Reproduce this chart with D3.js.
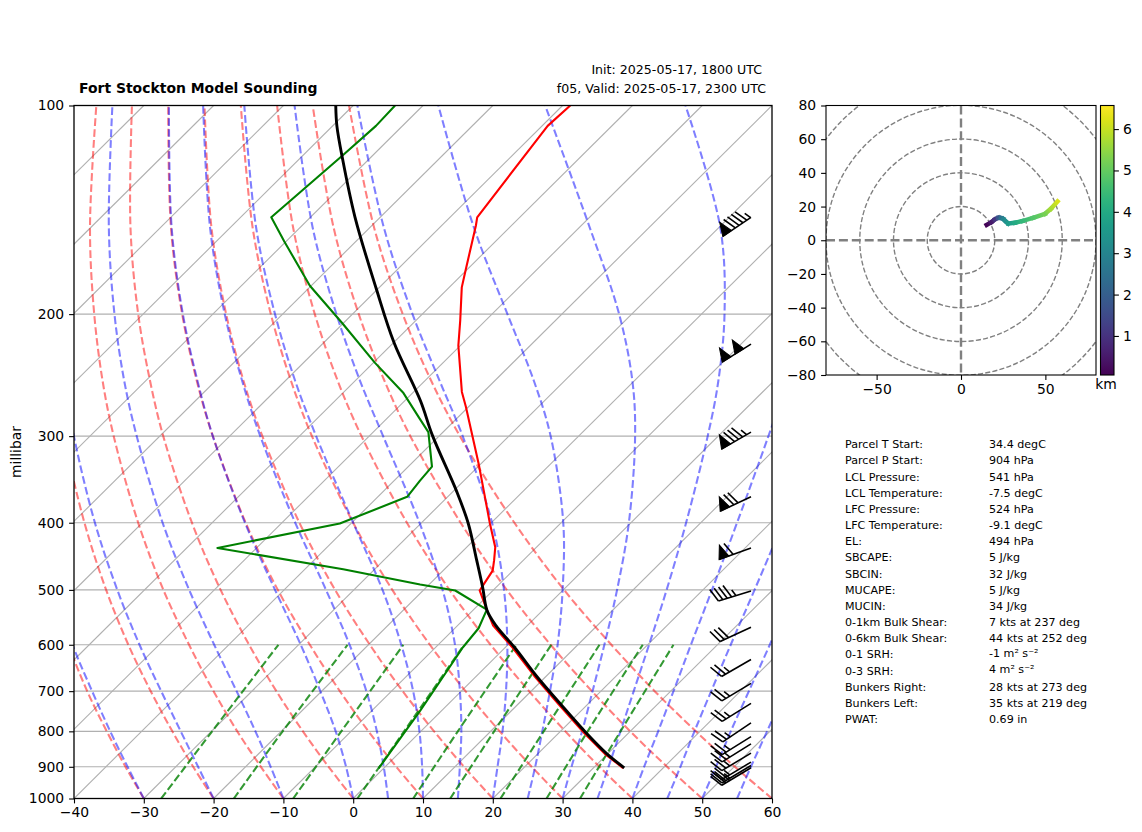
<!DOCTYPE html>
<html>
<head>
<meta charset="utf-8">
<script src="https://d3js.org/d3.v7.min.js"></script>
<style>
  html, body { margin: 0; background: #fff; }
  text { font-family: "DejaVu Sans", sans-serif; fill: #000; }
</style>
</head>
<body>
<svg id="chart" width="1142" height="832"></svg>
<script>
// ---- values ----
const pressureTicks = [100, 200, 300, 400, 500, 600, 700, 800, 900, 1000];
const tempTicks = [-40, -30, -20, -10, 0, 10, 20, 30, 40, 50, 60];
const isotherms = d3.range(-140, 61, 10);

// pressure levels for the adiabat rows below
const adiabatLevels = [1000, 900, 800, 700, 600, 500, 400, 300, 250, 200, 150, 100];
const dryAdiabats = [
  [-30.0, -37.2, -45.0, -53.6, -63.0, -73.7, -86.0, -100.8, -109.5, -119.6, -131.7, -147.2],
  [-20.0, -27.5, -35.6, -44.5, -54.4, -65.5, -78.3, -93.7, -102.8, -113.3, -125.9, -142.0],
  [-10.0, -17.8, -26.3, -35.5, -45.7, -57.3, -70.6, -86.6, -96.1, -107.0, -120.1, -136.8],
  [0.0, -8.1, -16.9, -26.5, -37.1, -49.1, -62.9, -79.5, -89.3, -100.7, -114.3, -131.7],
  [10.0, 1.6, -7.5, -17.4, -28.4, -40.9, -55.2, -72.4, -82.6, -94.4, -108.5, -126.5],
  [20.0, 11.3, 1.9, -8.4, -19.8, -32.7, -47.5, -65.3, -75.9, -88.1, -102.7, -121.3],
  [30.0, 21.0, 11.3, 0.6, -11.2, -24.5, -39.8, -58.2, -69.1, -81.7, -96.8, -116.1],
  [40.0, 30.7, 20.7, 9.7, -2.5, -16.3, -32.1, -51.1, -62.4, -75.4, -91.0, -110.9],
  [50.0, 40.4, 30.0, 18.7, 6.1, -8.1, -24.4, -44.1, -55.7, -69.1, -85.2, -105.8],
  [60.0, 50.1, 39.4, 27.7, 14.8, 0.1, -16.7, -37.0, -49.0, -62.8, -79.4, -100.6]
];
const moistAdiabats = [
  [-30.0, -36.9, -44.5, -52.9, -62.4, -73.0, -85.4, -100.2, -109.0, -119.1, -131.3, -146.8],
  [-20.0, -26.8, -34.4, -43.0, -52.8, -63.9, -76.8, -92.3, -101.5, -112.1, -124.8, -141.0],
  [-10.0, -16.4, -23.7, -32.2, -42.1, -53.6, -67.1, -83.3, -93.0, -104.1, -117.4, -134.5],
  [0.0, -5.6, -12.2, -20.2, -29.7, -41.3, -55.3, -72.4, -82.5, -94.3, -108.4, -126.4],
  [5.0, -0.2, -6.3, -13.6, -22.7, -34.0, -48.1, -65.6, -76.1, -88.3, -102.9, -121.5],
  [10.0, 5.3, -0.2, -6.9, -15.3, -25.9, -39.8, -57.6, -68.5, -81.1, -96.3, -115.6],
  [15.0, 10.7, 5.8, -0.2, -7.6, -17.3, -30.3, -48.0, -59.2, -72.3, -88.2, -108.4],
  [20.0, 16.1, 11.7, 6.4, -0.1, -8.5, -19.9, -36.6, -47.8, -61.4, -78.0, -99.4],
  [25.0, 21.5, 17.4, 12.7, 7.1, -0.1, -9.7, -24.0, -34.3, -47.8, -65.1, -87.8],
  [30.0, 26.7, 23.1, 18.8, 13.8, 7.7, -0.3, -11.9, -20.2, -31.8, -48.5, -72.5],
  [35.0, 32.0, 28.6, 24.7, 20.2, 14.8, 7.9, -1.5, -7.9, -16.7, -29.8, -52.4],
  [40.0, 37.1, 34.0, 30.4, 26.2, 21.3, 15.2, 7.2, 2.0, -4.8, -14.2, -30.2],
  [45.0, 42.3, 39.2, 35.8, 31.9, 27.4, 21.8, 14.6, 10.1, 4.5, -3.0, -14.3],
  [50.0, 47.4, 44.4, 41.2, 37.5, 33.1, 27.9, 21.2, 17.1, 12.0, 5.6, -3.6],
  [55.0, 52.4, 49.6, 46.4, 42.8, 38.6, 33.6, 27.3, 23.4, 18.6, 12.7, 4.4],
  [60.0, 57.5, 54.7, 51.6, 48.0, 43.9, 39.0, 32.9, 29.1, 24.6, 18.9, 11.1]
];
const mixingLevels = [1000, 800, 600];
const mixingLines = [
  [-27.5, -29.9, -32.9],
  [-17.1, -19.8, -23.0],
  [-8.6, -11.4, -15.0],
  [0.6, -2.4, -6.3],
  [8.6, 5.3, 1.2],
  [13.9, 10.5, 6.2],
  [21.1, 17.6, 13.1],
  [27.7, 23.9, 19.3],
  [32.5, 28.6, 23.7]
];

const tempPressure = [904, 862, 805, 730, 665, 606, 563, 535, 501, 491, 469, 453, 434, 401, 329, 272, 259, 222, 204, 183, 173, 149, 145, 107, 100];
const temperature = [34.3, 29.6, 23.7, 15.7, 8.2, 1.1, -4.9, -8.0, -11.9, -12.2, -12.9, -14.2, -15.9, -20.1, -30.3, -40.4, -43.1, -50.3, -53.7, -58.2, -60.1, -65.1, -66.1, -69.2, -68.9];
const dewPressure = [100, 107, 118, 145, 157, 182, 206, 235, 260, 283, 296, 332, 348, 367, 401, 435, 467, 491, 501, 534, 568, 605, 746, 905];
const dewpoint = [-94.0, -93.8, -94.3, -95.6, -90.3, -80.2, -70.2, -59.8, -51.3, -45.3, -42.1, -36.6, -36.3, -35.8, -41.6, -55.6, -34.5, -21.3, -15.4, -8.1, -6.6, -6.1, -3.1, -0.7];
const parcelPressure = [100, 107, 119, 145, 184, 220, 267, 299, 361, 401, 453, 496, 535, 563, 606, 665, 730, 805, 862, 903];
const parcelTemp = [-102.5, -99.4, -94.0, -83.6, -70.2, -59.9, -47.7, -41.1, -29.4, -23.2, -16.7, -11.9, -8.0, -4.5, 1.4, 8.5, 16.0, 24.0, 29.9, 34.4];

const barbPressure = [145, 221, 296, 367, 435, 502, 566, 630, 682, 729, 778, 814, 834, 860, 886, 896, 903];
const barbSpeed = [95, 100, 85, 70, 60, 45, 30, 25, 25, 25, 25, 25, 25, 25, 25, 25, 25];
const barbDirection = [236, 238, 240, 245, 250, 253, 245, 240, 239, 238, 236, 238, 238, 239, 239, 239, 239];

const hodoU = [15.2, 18.1, 20.1, 22.1, 23.7, 25.1, 26.4, 28.0, 32.0, 36.4, 42.7, 49.8, 53.3, 57.2];
const hodoV = [9.1, 10.8, 12.4, 13.3, 13.2, 12.6, 11.3, 9.9, 10.4, 11.4, 13.3, 15.7, 18.7, 23.1];
const hodoHeight = [0.1, 0.5, 1.0, 1.8, 2.5, 3.0, 3.3, 3.6, 4.0, 4.4, 4.8, 5.2, 5.7, 6.2];
const hodoRings = [20, 40, 60, 80, 100];

const statLabels = ['Parcel T Start:', 'Parcel P Start:', 'LCL Pressure:', 'LCL Temperature:', 'LFC Pressure:', 'LFC Temperature:', 'EL:', 'SBCAPE:', 'SBCIN:', 'MUCAPE:', 'MUCIN:', '0-1km Bulk Shear:', '0-6km Bulk Shear:', '0-1 SRH:', '0-3 SRH:', 'Bunkers Right:', 'Bunkers Left:', 'PWAT:'];
const statValues = ['34.4 degC', '904 hPa', '541 hPa', '-7.5 degC', '524 hPa', '-9.1 degC', '494 hPa', '5 J/kg', '32 J/kg', '5 J/kg', '34 J/kg', '7 kts at 237 deg', '44 kts at 252 deg', '-1 m\u00b2 s\u207b\u00b2', '4 m\u00b2 s\u207b\u00b2', '28 kts at 273 deg', '35 kts at 219 deg', '0.69 in'];

// ---- skew-T panel ----
const svg = d3.select('#chart');
const skL = 74, skR = 772, skT = 105.5, skB = 798.5;
const tempX = d3.scaleLinear().domain([-40, 60]).range([skL, skR]);
const pY = d3.scaleLog().domain([1000, 100]).range([skB, skT]);
const skew = (skR - skL) / (skB - skT);
const skewX = (t, p) => tempX(t) + (skB - pY(p)) * skew;

const defs = svg.append('defs');
defs.append('clipPath').attr('id', 'skewClip').append('rect')
  .attr('x', skL).attr('y', skT).attr('width', skR - skL).attr('height', skB - skT);

const plot = svg.append('g').attr('clip-path', 'url(#skewClip)');
plot.selectAll('line.h').data(pressureTicks).enter().append('line')
  .attr('x1', skL).attr('x2', skR)
  .attr('y1', d => pY(d)).attr('y2', d => pY(d))
  .attr('stroke', '#b0b0b0').attr('stroke-width', 1.1);
plot.selectAll('line.t').data(isotherms).enter().append('line')
  .attr('x1', d => skewX(d, 1000)).attr('y1', pY(1000))
  .attr('x2', d => skewX(d, 100)).attr('y2', pY(100))
  .attr('stroke', '#b0b0b0').attr('stroke-width', 1.1);

function guideCurves(rows, levels, color, opacity) {
  const line = d3.line()
    .x((d, i) => skewX(d, levels[i]))
    .y((d, i) => pY(levels[i]))
    .curve(d3.curveCatmullRom);
  plot.append('g').selectAll('path').data(rows).enter().append('path')
    .attr('d', line)
    .attr('fill', 'none')
    .attr('stroke', color)
    .attr('stroke-opacity', opacity)
    .attr('stroke-width', 2.08)
    .attr('stroke-dasharray', '7.7 3.3');
}
guideCurves(dryAdiabats, adiabatLevels, '#ff0000', 0.5);
guideCurves(moistAdiabats, adiabatLevels, '#0000ff', 0.5);
guideCurves(mixingLines, mixingLevels, '#008000', 0.8);

function profile(pres, temps, color, width, curve) {
  const line = d3.line()
    .x((d, i) => skewX(temps[i], d))
    .y(d => pY(d))
    .curve(curve);
  plot.append('path').attr('d', line(pres))
    .attr('fill', 'none').attr('stroke', color)
    .attr('stroke-width', width).attr('stroke-linejoin', 'round');
}
profile(tempPressure, temperature, '#ff0000', 2.1, d3.curveLinear);
profile(dewPressure, dewpoint, '#008000', 2.1, d3.curveLinear);
profile(parcelPressure, parcelTemp, '#000000', 2.9, d3.curveCatmullRom);

// wind barbs, pinned at the tail end of the staff, flags at the upwind end
const barbX = 751;
const barbLen = 34, barbH = 13.5, barbW = 10, barbFlag = 10.5, barbGap = 4.6;
function drawBarb(g, speed) {
  // local frame: staff along +x from the pinned end, feathers towards +y
  g.append('line').attr('x1', 0).attr('y1', 0).attr('x2', barbLen).attr('y2', 0)
    .attr('stroke', '#000').attr('stroke-width', 1.6);
  let s = speed, at = barbLen;
  const flags = Math.floor(s / 50); s -= flags * 50;
  const full = Math.floor(s / 10); s -= full * 10;
  for (let i = 0; i < flags; i++) {
    g.append('path')
      .attr('d', `M${at},0L${at - barbFlag / 2},${barbH}L${at - barbFlag},0Z`)
      .attr('fill', '#000').attr('stroke', '#000').attr('stroke-width', 1);
    at -= barbFlag + barbGap;
  }
  for (let i = 0; i < full; i++) {
    g.append('line').attr('x1', at).attr('y1', 0)
      .attr('x2', at + barbW / 2).attr('y2', barbH)
      .attr('stroke', '#000').attr('stroke-width', 1.6);
    at -= barbGap;
  }
  if (s >= 5) {
    g.append('line').attr('x1', at).attr('y1', 0)
      .attr('x2', at + barbW / 4).attr('y2', barbH / 2)
      .attr('stroke', '#000').attr('stroke-width', 1.6);
  }
}
barbPressure.forEach((p, i) => {
  // direction is a compass bearing, the staff points towards it on screen
  const angle = barbDirection[i] - 90;
  const g = svg.append('g').attr('transform', `translate(${barbX},${pY(p)}) rotate(${angle})`);
  drawBarb(g, barbSpeed[i]);
});

// axes
const styleAxis = g => {
  g.selectAll('text').attr('font-size', 13.9).attr('font-family', '"DejaVu Sans", sans-serif');
  g.selectAll('line').attr('stroke-width', 1.1);
  g.select('.domain').remove();
};
svg.append('g').attr('transform', `translate(${skL},0)`)
  .call(d3.axisLeft(pY).tickValues(pressureTicks).tickFormat(d3.format('d')).tickSize(4.9).tickPadding(4.9))
  .call(styleAxis);
svg.append('g').attr('transform', `translate(0,${skB})`)
  .call(d3.axisBottom(tempX).tickValues(tempTicks).tickFormat(d3.format('d')).tickSize(4.9).tickPadding(4.2))
  .call(styleAxis);
svg.append('rect').attr('x', skL).attr('y', skT).attr('width', skR - skL).attr('height', skB - skT)
  .attr('fill', 'none').attr('stroke', '#000').attr('stroke-width', 1.3);

svg.append('text').attr('transform', 'translate(21,452) rotate(-90)')
  .attr('text-anchor', 'middle').attr('font-size', 13.9).text('millibar');
svg.append('text').attr('x', 79).attr('y', 92.5)
  .attr('font-size', 13.95).attr('font-weight', 'bold').text('Fort Stockton Model Sounding');
svg.append('text').attr('x', 762).attr('y', 74).attr('text-anchor', 'end')
  .attr('font-size', 12.6).text('Init: 2025-05-17, 1800 UTC');
svg.append('text').attr('x', 766).attr('y', 92.5).attr('text-anchor', 'end')
  .attr('font-size', 12.6).text('f05, Valid: 2025-05-17, 2300 UTC');

// ---- hodograph ----
const hL = 826, hR = 1096, hT = 105.5, hB = 375;
const hodoX = d3.scaleLinear().domain([-80, 80]).range([hL, hR]);
const hodoY = d3.scaleLinear().domain([-80, 80]).range([hB, hT]);
const hodoColor = d3.scaleSequential(d3.interpolateViridis).domain([0.056, 6.57]);

defs.append('clipPath').attr('id', 'hodoClip').append('rect')
  .attr('x', hL).attr('y', hT).attr('width', hR - hL).attr('height', hB - hT);
const hodo = svg.append('g').attr('clip-path', 'url(#hodoClip)');
hodo.selectAll('circle').data(hodoRings).enter().append('circle')
  .attr('cx', hodoX(0)).attr('cy', hodoY(0))
  .attr('r', d => hodoX(d) - hodoX(0))
  .attr('fill', 'none').attr('stroke', '#808080')
  .attr('stroke-width', 1.39).attr('stroke-dasharray', '5.1 2.2');
hodo.append('line').attr('x1', hL).attr('x2', hR).attr('y1', hodoY(0)).attr('y2', hodoY(0))
  .attr('stroke', '#808080').attr('stroke-width', 2.4).attr('stroke-dasharray', '9 3.9');
hodo.append('line').attr('y1', hT).attr('y2', hB).attr('x1', hodoX(0)).attr('x2', hodoX(0))
  .attr('stroke', '#808080').attr('stroke-width', 2.4).attr('stroke-dasharray', '9 3.9');

d3.range(hodoU.length - 1).forEach(i => {
  const x1 = hodoX(hodoU[i]), y1 = hodoY(hodoV[i]), x2 = hodoX(hodoU[i + 1]), y2 = hodoY(hodoV[i + 1]);
  const grad = defs.append('linearGradient').attr('id', 'seg' + i)
    .attr('gradientUnits', 'userSpaceOnUse')
    .attr('x1', x1).attr('y1', y1).attr('x2', x2).attr('y2', y2);
  grad.append('stop').attr('offset', 0).attr('stop-color', hodoColor(hodoHeight[i]));
  grad.append('stop').attr('offset', 1).attr('stop-color', hodoColor(hodoHeight[i + 1]));
  hodo.append('line').attr('x1', x1).attr('y1', y1).attr('x2', x2).attr('y2', y2)
    .attr('stroke', `url(#seg${i})`).attr('stroke-width', 4.5).attr('stroke-linecap', 'square');
});

svg.append('g').attr('transform', `translate(${hL},0)`)
  .call(d3.axisLeft(hodoY).tickValues(d3.range(-80, 81, 20)).tickFormat(d3.format('d')).tickSize(4.9).tickPadding(4.9))
  .call(styleAxis);
svg.append('g').attr('transform', `translate(0,${hB})`)
  .call(d3.axisBottom(hodoX).tickValues([-50, 0, 50]).tickFormat(d3.format('d')).tickSize(4.9).tickPadding(4.2))
  .call(styleAxis);
svg.append('rect').attr('x', hL).attr('y', hT).attr('width', hR - hL).attr('height', hB - hT)
  .attr('fill', 'none').attr('stroke', '#000').attr('stroke-width', 1.1);

// colorbar
const cbL = 1100.5, cbR = 1114;
const cbY = d3.scaleLinear().domain([0.056, 6.57]).range([hB, hT]);
const cbGrad = defs.append('linearGradient').attr('id', 'cbGrad')
  .attr('x1', 0).attr('y1', 1).attr('x2', 0).attr('y2', 0);
d3.range(0, 1.001, 0.05).forEach(t => {
  cbGrad.append('stop').attr('offset', t).attr('stop-color', d3.interpolateViridis(t));
});
svg.append('rect').attr('x', cbL).attr('y', hT).attr('width', cbR - cbL).attr('height', hB - hT)
  .attr('fill', 'url(#cbGrad)').attr('stroke', '#000').attr('stroke-width', 1.1);
svg.append('g').attr('transform', `translate(${cbR},0)`)
  .call(d3.axisRight(cbY).tickValues([1, 2, 3, 4, 5, 6]).tickFormat(d3.format('d')).tickSize(4.9).tickPadding(4))
  .call(styleAxis);
svg.append('text').attr('x', 1106).attr('y', 389).attr('text-anchor', 'middle')
  .attr('font-size', 13.9).text('km');

// ---- stats table ----
const statY = d3.scalePoint().domain(statLabels).range([448.2, 723]);
svg.append('g').selectAll('text').data(statLabels).enter().append('text')
  .attr('x', 845).attr('y', d => statY(d)).attr('font-size', 11.1).text(d => d);
svg.append('g').selectAll('text').data(statValues).enter().append('text')
  .attr('x', 989).attr('y', (d, i) => statY(statLabels[i]) - (d.includes('\u00b2') ? 1.5 : 0))
  .attr('font-size', 11.1).text(d => d);
</script>
</body>
</html>
